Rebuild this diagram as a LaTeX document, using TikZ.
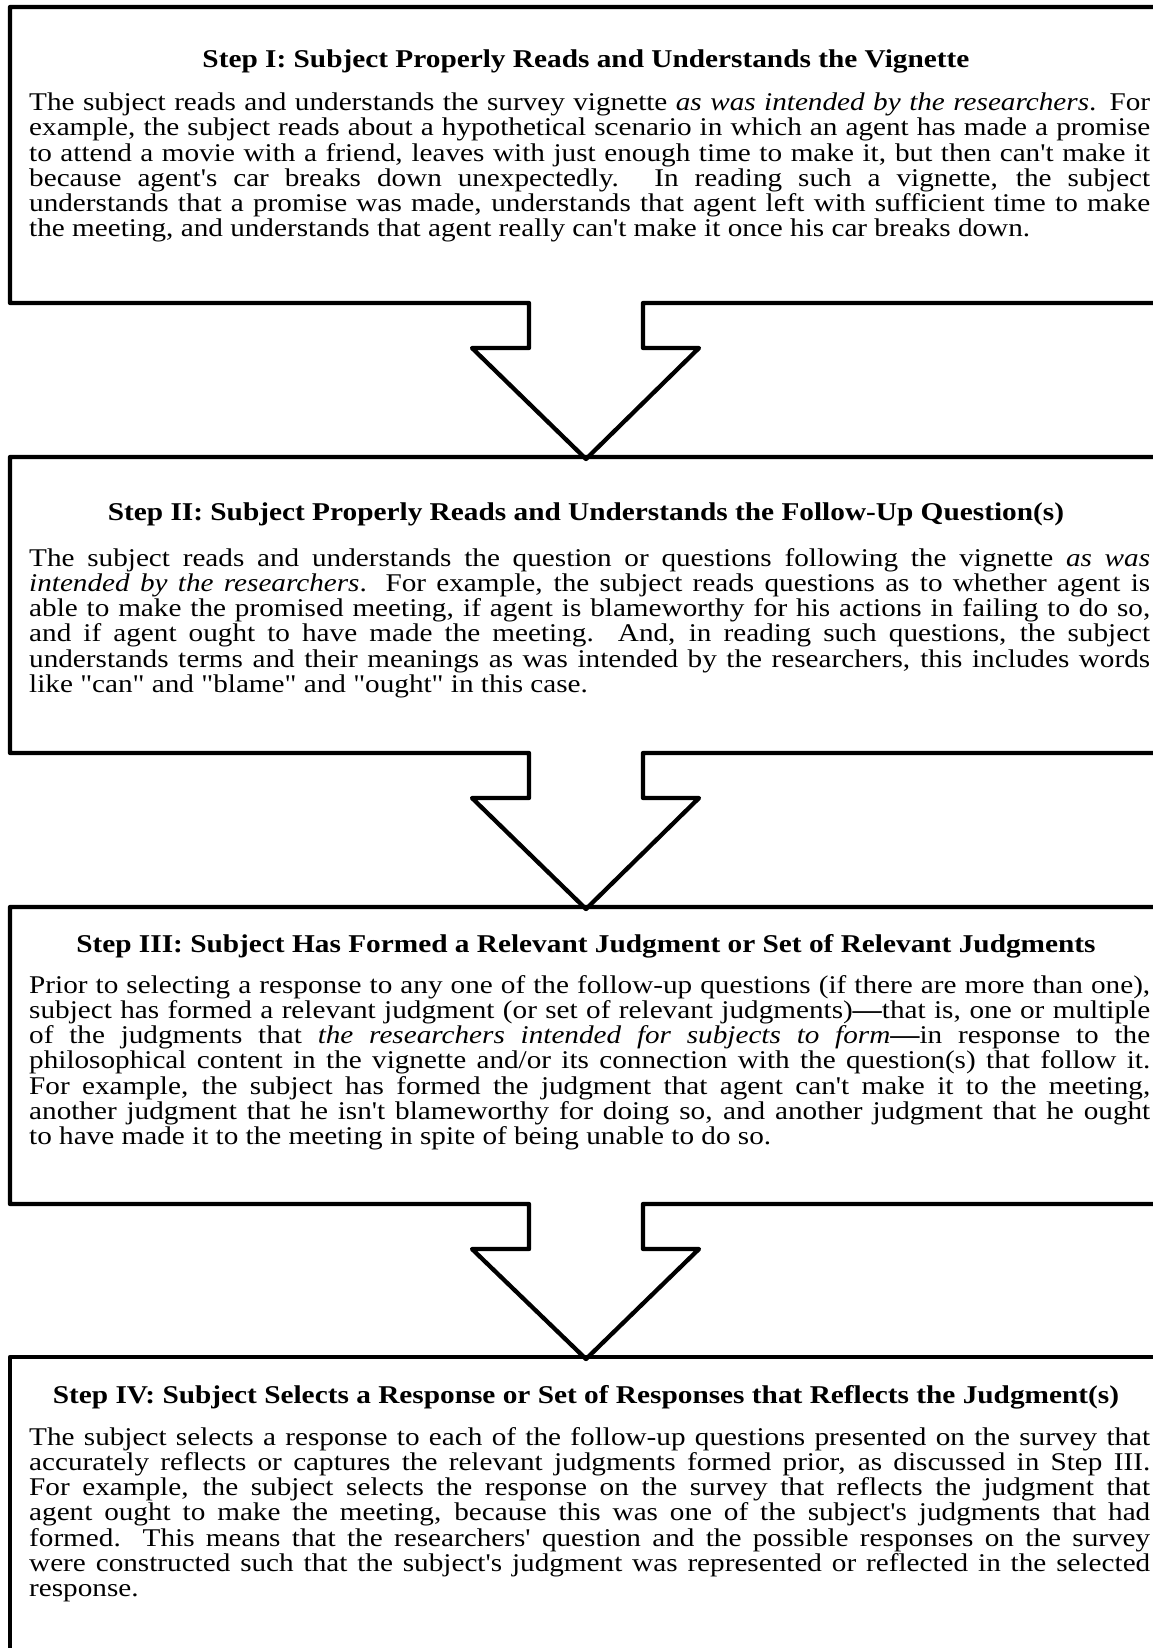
\documentclass[tikz,border=0pt]{standalone}
\usepackage{fontspec}
\newfontfamily\tnr{Liberation Serif}[FakeStretch=1.145]
\usetikzlibrary{positioning}

% paragraph of a step, first baseline is the node base
\newcommand\stepbody[1]{\vtop{\hsize=1121pt\parindent=0pt\tolerance=9999\hbadness=10000
  \lineskiplimit=-50pt\lineskip=0pt
  \hyphenpenalty=10000\exhyphenpenalty=10000 #1}}

\begin{document}
\begin{tikzpicture}[x=1pt, y=-1pt]
        % ================= styles =================
        \tikzset{
            % outline of the boxes and arrows
            boxline/.style={line width=4.3pt, line join=round, draw=black},
            % heading of a step
            steptitle/.style={anchor=base, inner sep=0pt, font={\tnr\bfseries\fontsize{25.6}{28}\selectfont}},
            % text of a step
            steptext/.style={anchor=base west, inner sep=0pt, font={\tnr\fontsize{25.5}{25.2}\selectfont}}
        }
        \useasboundingbox (0,0) rectangle (1153,1648);

        % ================= 1. Step I box + arrow =================
        \coordinate (s1tl) at (10, 7);
        \coordinate (s1br) at (1161, 303);
        \draw[boxline] (s1tl) -- (s1tl -| s1br) -- (s1br) -- (643,303) -- (643,348) -- (699,348)
            -- (586,459) -- (472,348) -- (529,348) -- (529,303) -- (s1tl |- s1br) -- cycle;

        \node[steptitle] (t1) at (586,68) {Step I: Subject Properly Reads and Understands the Vignette};
        \node[steptext] (p1) at (29,110.7) {\stepbody{The subject reads and understands the survey vignette \textit{as was intended by the researchers}.  For\linebreak
        example, the subject reads about a hypothetical scenario in which an agent has made a promise\linebreak
        to attend a movie with a friend, leaves with just enough time to make it, but then can't make it\linebreak
        because agent's car breaks down unexpectedly.  In reading such a vignette, the subject\linebreak
        understands that a promise was made, understands that agent left with sufficient time to make\linebreak
        the meeting, and understands that agent really can't make it once his car breaks down.}};

        % ================= 2. Step II box + arrow =================
        \coordinate (s2tl) at (10, 457);
        \coordinate (s2br) at (1161, 753);
        \draw[boxline] (s2tl) -- (s2tl -| s2br) -- (s2br) -- (643,753) -- (643,798) -- (699,798)
            -- (586,909) -- (472,798) -- (529,798) -- (529,753) -- (s2tl |- s2br) -- cycle;

        \node[steptitle] (t2) at (586,520) {Step II: Subject Properly Reads and Understands the Follow-Up Question(s)};
        \node[steptext] (p2) at (29,566.3) {\stepbody{The subject reads and understands the question or questions following the vignette \textit{as was}\linebreak
        \textit{intended by the researchers}.  For example, the subject reads questions as to whether agent is\linebreak
        able to make the promised meeting, if agent is blameworthy for his actions in failing to do so,\linebreak
        and if agent ought to have made the meeting.  And, in reading such questions, the subject\linebreak
        understands terms and their meanings as was intended by the researchers, this includes words\linebreak
        like "can" and "blame" and "ought" in this case.}};

        % ================= 3. Step III box + arrow =================
        \coordinate (s3tl) at (10, 907);
        \coordinate (s3br) at (1161, 1204);
        \draw[boxline] (s3tl) -- (s3tl -| s3br) -- (s3br) -- (643,1204) -- (643,1249) -- (699,1249)
            -- (586,1359) -- (472,1249) -- (529,1249) -- (529,1204) -- (s3tl |- s3br) -- cycle;

        \node[steptitle] (t3) at (586,952) {Step III: Subject Has Formed a Relevant Judgment or Set of Relevant Judgments};
        \node[steptext] (p3) at (29,993.3) {\stepbody{Prior to selecting a response to any one of the follow-up questions (if there are more than one),\linebreak
        subject has formed a relevant judgment (or set of relevant judgments){\bfseries —}that is, one or multiple\linebreak
        of the judgments that \textit{the researchers intended for subjects to form}{\bfseries —}in response to the\linebreak
        philosophical content in the vignette and/or its connection with the question(s) that follow it.\linebreak
        For example, the subject has formed the judgment that agent can't make it to the meeting,\linebreak
        another judgment that he isn't blameworthy for doing so, and another judgment that he ought\linebreak
        to have made it to the meeting in spite of being unable to do so.}};

        % ================= 4. Step IV box (runs off the page) =================
        \coordinate (s4tl) at (10, 1357);
        \coordinate (s4br) at (1161, 1700);
        \draw[boxline] (s4tl |- s4br) -- (s4tl) -- (s4tl -| s4br) -- (s4br);

        \node[steptitle] (t4) at (586,1403) {Step IV: Subject Selects a Response or Set of Responses that Reflects the Judgment(s)};
        \node[steptext] (p4) at (29,1445.3) {\stepbody{The subject selects a response to each of the follow-up questions presented on the survey that\linebreak
        accurately reflects or captures the relevant judgments formed prior, as discussed in Step III.\linebreak
        For example, the subject selects the response on the survey that reflects the judgment that\linebreak
        agent ought to make the meeting, because this was one of the subject's judgments that had\linebreak
        formed.  This means that the researchers' question and the possible responses on the survey\linebreak
        were constructed such that the subject's judgment was represented or reflected in the selected\linebreak
        response.}};

    \end{tikzpicture}
\end{document}
